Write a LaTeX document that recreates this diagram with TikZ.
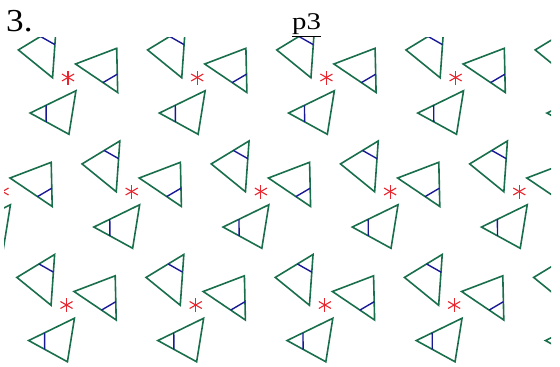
\documentclass[tikz,border=0pt]{standalone}
\usepackage{fontspec}
\setmainfont{Liberation Serif}
\usetikzlibrary{calc}
\definecolor{trigreen}{RGB}{25,110,75}
\definecolor{barblue}{RGB}{25,25,150}
\definecolor{starred}{RGB}{235,35,45}

\begin{document}
\begin{tikzpicture}[
    x=1pt, y=-1pt,
    triangle/.style={draw=trigreen, line width=1.6pt, line join=miter},
    bluebar/.style={draw=barblue, line width=1.4pt},
    rotcenter/.style={draw=starred, line width=1.1pt},
    heading/.style={inner sep=0pt, anchor=base west}
  ]
  \useasboundingbox (0,0) rectangle (560,367);

  % headings
  \node[heading, xscale=1.1, font=\fontsize{32}{36}\selectfont] (num) at (6,31.5) {3.};
  \node[heading, xscale=1.2, font=\fontsize{24}{28}\selectfont] (group) at (292,29.3) {\underline{p3}};

  % lattice of 3-fold centres, three triangles round each
  \begin{scope}
    \clip (4,37) rectangle (551,367);
    \foreach \ox/\oy in {68/77.5, 2.5/191.5, 66.5/305} {
      \foreach \k in {-1,...,4} {
        \coordinate (c) at ({\ox+129.2*(\k)},\oy);
        \foreach \a in {90,30,150}
          \draw[rotcenter] ($(c)+(\a:7)$) -- ($(c)+(\a+180:7)$);
        \foreach \r in {0,120,240} {
          \begin{scope}[shift={(c)}, rotate=\r]
            \draw[triangle] (7.5,-13.5) -- (48.7,-29.2) -- (49.7,15) -- cycle;
            \draw[bluebar] (35,5.1) -- (49.3,-3.3);
          \end{scope}
        }
      }
    }
  \end{scope}
\end{tikzpicture}
\end{document}
